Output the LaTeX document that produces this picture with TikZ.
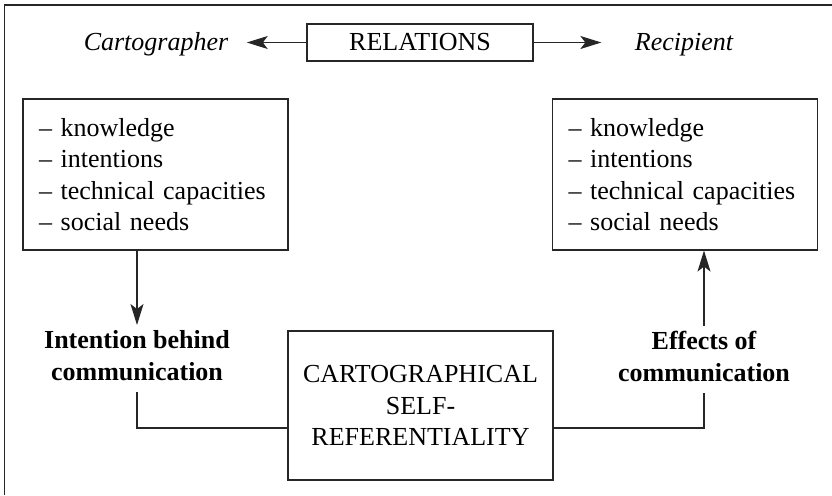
\documentclass[tikz,border=0pt]{standalone}
\usepackage{fontspec}
\setmainfont{Liberation Serif}
\usetikzlibrary{arrows.meta}
\begin{document}
\begin{tikzpicture}[x=1pt,y=-1pt,
  font=\fontsize{26}{31.5}\selectfont,
  line width=1.1pt, draw=black!85,
  tip/.style={-{Stealth[length=21pt,width=13pt,inset=5pt]}},
  framebox/.style={draw, inner sep=0pt},
  listbox/.style={draw, minimum height=151pt, inner xsep=16pt, text width=233pt, align=left},
  caption/.style={font=\fontsize{26}{31.5}\selectfont\bfseries, align=center, inner xsep=0pt, inner ysep=5pt},
  party/.style={font=\fontsize{26}{31.5}\selectfont\itshape, inner sep=0pt, anchor=base}]
  \useasboundingbox (0,0) rectangle (832,495);
  % partial frame (left and top edges)
  \draw[line width=1.5pt] (4.5,495) -- (4.5,5) -- (832,5);

  % header row
  \node[framebox, minimum width=226pt, minimum height=37pt] (rel) at (420,42.5) {RELATIONS};
  \node[party] (cart) at (156,50.7) {Cartographer};
  \node[party] (recp) at (684,50.7) {Recipient};
  \draw[tip] (rel.west) -- ([xshift=18pt]rel.west -| cart.east);
  \draw[tip] (rel.east) -- ([xshift=-33pt]rel.east -| recp.west);

  % attribute lists
  \node[listbox] (lbox) at (155.5,174.5) {-- knowledge\\-- intentions\\-- technical capacities\\-- social needs};
  \node[listbox] (rbox) at (685,174.5) {-- knowledge\\-- intentions\\-- technical capacities\\-- social needs};

  % central box
  \node[draw, minimum width=265pt, minimum height=149pt, align=center] (core) at (420.5,405.5)
    {CARTOGRAPHICAL\\SELF-\\REFERENTIALITY};

  % captions
  \node[caption, anchor=north] (intent) at (137,325) {Intention behind\\communication};
  \node[caption, anchor=north] (effect) at (704,326) {Effects of\\communication};

  % connectors
  \draw[tip] (lbox.south -| intent.north) -- (intent.north);
  \draw[shorten <=6pt] (intent.south) |- ([yshift=-22.5pt]core.west);
  \draw[shorten >=6pt] ([yshift=-22.5pt]core.east) -| (effect.south);
  \draw[tip] (effect.north) -- (effect.north |- rbox.south);
\end{tikzpicture}
\end{document}
